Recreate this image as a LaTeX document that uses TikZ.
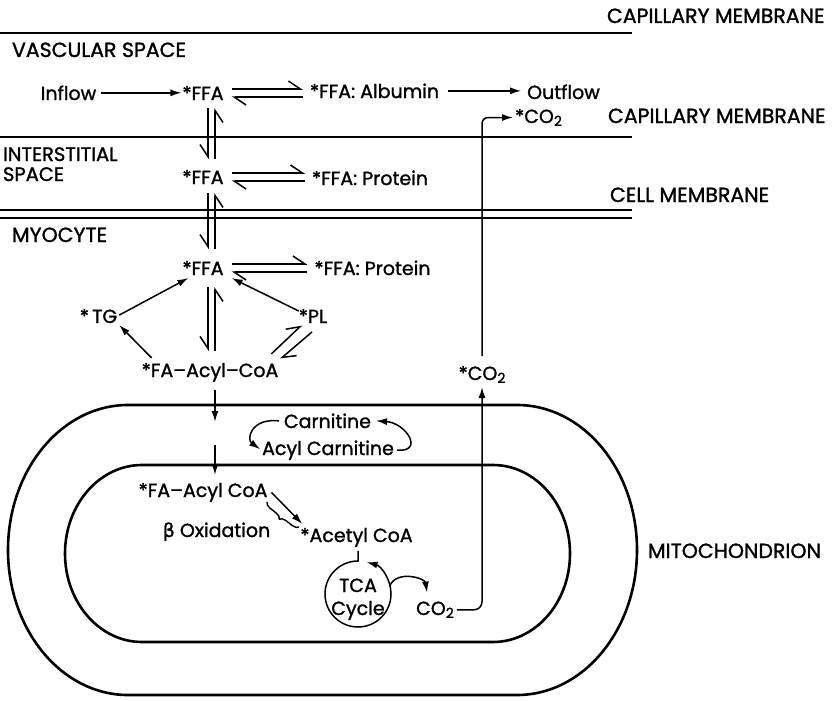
\documentclass[tikz,border=0pt]{standalone}
\usepackage{fontspec}
\setmainfont{Poppins}[FakeBold=1.3]
\newfontfamily\grk{DejaVu Sans}[FakeBold=1.3]
\usetikzlibrary{arrows.meta,calc,decorations.pathreplacing}
\newcommand\subtwo{\raisebox{-3pt}{\fontsize{14}{14}\selectfont 2}}

\begin{document}
\begin{tikzpicture}[x=1pt,y=-1pt,
  every node/.style={inner sep=0pt,outer sep=0pt,font=\fontsize{19}{20}\selectfont},
  lbl/.style={anchor=base},
  side/.style={anchor=base west,font=\fontsize{20.5}{21}\selectfont},
  sidesm/.style={anchor=base west,font=\fontsize{19.5}{20}\selectfont},
  membrane/.style={line width=2.2pt},
  arr/.style={line width=1.5pt,-{Latex[length=11pt,width=7pt]}},
  hp/.style={line width=1.5pt,-{Straight Barb[harpoon,length=12pt,width=16pt]}},
  hps/.style={line width=1.5pt,-{Straight Barb[harpoon,swap,length=12pt,width=16pt]}},
  mito/.style={line width=2.6pt}]
\useasboundingbox (0,0) rectangle (838,701);

% membranes
\draw[membrane] (0,33) -- (632,33);
\draw[membrane] (0,137) -- (632,137);
\draw[membrane] (0,210) -- (632,210);
\draw[membrane] (0,218) -- (632,218);

% compartment labels
\node[side] (capT) at (607,23) {CAPILLARY MEMBRANE};
\node[side] (vasc) at (12,57) {VASCULAR SPACE};
\node[side] (capB) at (608,123) {CAPILLARY MEMBRANE};
\node[sidesm] (inter1) at (3,161) {INTERSTITIAL};
\node[sidesm] (inter2) at (3,181) {SPACE};
\node[side] (cellm) at (610,202) {CELL MEMBRANE};
\node[side] (myo) at (12,242) {MYOCYTE};
\node[side] (mitoL) at (648,558) {MITOCHONDRION};

% species
\node[lbl] (inflow) at (68.5,100) {Inflow};
\node[lbl] (ffaV) at (203,100) {*FFA};
\node[lbl] (alb) at (374.5,98) {*FFA: Albumin};
\node[lbl] (outflow) at (563.5,99) {Outflow};
\node[lbl] (co2t) at (538.5,123) {*CO\subtwo};
\node[lbl] (ffaI) at (203,184) {*FFA};
\node[lbl] (protI) at (370,185) {*FFA: Protein};
\node[lbl] (ffaM) at (203,275) {*FFA};
\node[lbl] (protM) at (372.5,275) {*FFA: Protein};
\node[lbl] (tg) at (98.5,323) {*\,TG};
\node[lbl] (pl) at (313,323) {*PL};
\node[lbl] (acoa) at (210,377) {*FA\textendash Acyl\textendash CoA};
\node[lbl] (co2m) at (482,380) {*CO\subtwo};
\node[lbl] (carn) at (327.5,428) {Carnitine};
\node[lbl] (acarn) at (328,455) {Acyl Carnitine};
\node[lbl] (macoa) at (203,497) {*FA\textendash Acyl CoA};
\node[lbl] (beta) at (216.5,537) {{\grk β} Oxidation};
\node[lbl] (acetyl) at (356.5,542) {*Acetyl CoA};
\node[circle,minimum size=66pt] (tca) at (358,594) {};
\node[lbl] (tca1) at (358,592) {TCA};
\node[lbl] (tca2) at (358,615) {Cycle};
\node[lbl] (co2b) at (435,615) {CO\subtwo};

% mitochondrion: outer and inner membranes
\draw[mito] (128,405) -- (517,405)
  arc[start angle=-90,end angle=90,x radius=120,y radius=145]
  -- (128,695)
  arc[start angle=90,end angle=270,x radius=120,y radius=145] -- cycle;
\draw[mito] (142,465) -- (493,465)
  arc[start angle=-90,end angle=90,x radius=77,y radius=88.5]
  -- (142,642)
  arc[start angle=90,end angle=270,x radius=77,y radius=88.5] -- cycle;

% vascular space
\draw[arr] ($(inflow.east)+(5,0)$) -- ($(inflow.east -| ffaV.west)+(-1,0)$);
\draw[arr] ($(alb.east)+(9,0)$) -- ($(alb.east -| outflow.west)+(-6,0)$);
\draw[hp] ($(ffaV.east)+(8,-4)$) -- ($(ffaV.east -| alb.west)+(-7,-4)$);
\draw[hp] ($(ffaV.east -| alb.west)+(-7,4)$) -- ($(ffaV.east)+(8,4)$);

% interstitial space
\draw[hp] ($(ffaI.east)+(8,-4)$) -- ($(ffaI.east -| protI.west)+(-7,-4)$);
\draw[hp] ($(ffaI.east -| protI.west)+(-7,4)$) -- ($(ffaI.east)+(8,4)$);

% myocyte
\draw[hp] ($(ffaM.east)+(8,-4)$) -- ($(ffaM.east -| protM.west)+(-7,-4)$);
\draw[hp] ($(ffaM.east -| protM.west)+(-7,4)$) -- ($(ffaM.east)+(8,4)$);

% transport across membranes
\draw[hps] ($(ffaV.south)+(5,8)$) -- ($(ffaI.north)+(5,-11)$);
\draw[hps] ($(ffaI.north)+(12,-11)$) -- ($(ffaV.south)+(12,8)$);
\draw[hps] ($(ffaI.south)+(5,9)$) -- ($(ffaM.north)+(5,-12)$);
\draw[hps] ($(ffaM.north)+(12,-12)$) -- ($(ffaI.south)+(12,9)$);
\draw[hps] ($(ffaM.south)+(5,12)$) -- ($(ffaM.south |- acoa.north)+(5,-12)$);
\draw[hps] ($(ffaM.south |- acoa.north)+(12,-12)$) -- ($(ffaM.south)+(12,12)$);

% lipid pools
\draw[arr] ($(tg.east)+(2,-1)$) -- ($(ffaM.south west)+(6,3)$);
\draw[arr] ($(pl.north west)+(0,2)$) -- ($(ffaM.south east)+(8,3)$);
\draw[arr] ($(acoa.north west)+(10,-5)$) -- ($(tg.south east)+(2,2)$);
\draw[hp] ($(acoa.north east)+(-7,-9)$) -- ($(pl.south west)+(3,2)$);
\draw[hp] ($(pl.south)+(-1,9)$) -- ($(acoa.north east)+(2,-4)$);

% entry into the mitochondrion
\coordinate (ims) at (215,433);
\draw[arr] ($(acoa.south -| ims)+(0,8)$) -- ($(ims)+(0,-11)$);
\draw[arr] ($(ims)+(0,12)$) -- ($(macoa.north -| ims)+(0,-8)$);

% carnitine shuttle
\draw[arr] ($(carn.west)+(-5,0)$) .. controls +(-28,-3) and +(-14,-10) .. ($(acarn.west)+(-2,-1)$);
\draw[arr] ($(acarn.east)+(3,0)$) .. controls +(28,2) and +(30,2) .. ($(carn.east)+(5,0)$);

% beta oxidation
\draw[arr] ($(macoa.east)+(4,0)$) -- ($(acetyl.north west)+(2,-4)$);
\draw[line width=1.4pt,decorate,decoration={brace,amplitude=6pt,mirror}] (267,502) -- (299,527);

% TCA cycle
\draw[arr] ($(acetyl.south -| tca.north)+(0,4)$) -- (tca.north)
  arc[start angle=-90,end angle=-435,radius=33];
\draw[arr] (tca.15) .. controls +(8,-16) and +(-2,-14) .. ($(co2b.north)+(-8,-9)$);

% CO2 release
\draw[arr,rounded corners=8pt] ($(co2b.east)+(3,0)$) -| ($(co2m.south)+(0,4)$);
\draw[arr,rounded corners=6pt] ($(co2m.north)+(0,-10)$) |- ($(co2t.west)+(-2,0)$);
\end{tikzpicture}
\end{document}
